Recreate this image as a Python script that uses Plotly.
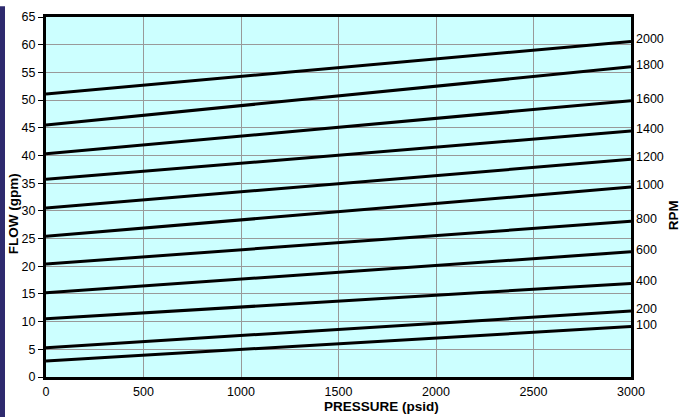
import plotly.graph_objects as go

# Data
rpm_labels = ["2000", "1800", "1600", "1400", "1200", "1000", "800", "600", "400", "200", "100"]
pressure_ends = [0, 3000]
flow_at_0 = [51.1, 45.5, 40.3, 35.7, 30.5, 25.4, 20.4, 15.2, 10.5, 5.3, 2.9]
flow_at_3000 = [60.6, 56.0, 49.9, 44.4, 39.3, 34.3, 28.1, 22.6, 16.9, 11.9, 9.1]

x_ticks = [0, 500, 1000, 1500, 2000, 2500, 3000]
y_ticks = list(range(0, 66, 5))

FONT = "Liberation Sans, Arial, sans-serif"
TICK_SIZE = 12.5
TITLE_SIZE = 13.5

fig = go.Figure()
for lab, f0, f1 in zip(rpm_labels, flow_at_0, flow_at_3000):
    fig.add_trace(go.Scatter(
        x=pressure_ends, y=[f0, f1], mode="lines",
        line=dict(color="black", width=3), name=lab, showlegend=False,
        hoverinfo="skip",
    ))
    fig.add_annotation(
        x=pressure_ends[-1], y=f1, xref="x", yref="y", text=lab,
        showarrow=False, xanchor="left", yanchor="middle", xshift=3, yshift=2,
        font=dict(family=FONT, size=TICK_SIZE, color="black"),
    )

L, R, T, B = 46, 50, 10, 40
W, H = 681, 417
pw = W - L - R
ph = H - T - B

fig.update_layout(
    width=W, height=H,
    margin=dict(l=L, r=R, t=T, b=B, pad=0),
    paper_bgcolor="white",
    plot_bgcolor="#ccffff",
    font=dict(family=FONT, size=TICK_SIZE, color="black"),
    showlegend=False,
)
fig.update_xaxes(
    range=[0, 3000], tickvals=x_ticks, ticktext=[str(v) for v in x_ticks],
    showgrid=True, gridcolor="#999999", gridwidth=1,
    showline=True, linecolor="black", linewidth=3, mirror=True,
    ticks="", zeroline=False, ticklabelstandoff=1,
    tickfont=dict(family=FONT, size=TICK_SIZE, color="black"),
)
fig.update_yaxes(
    range=[0, 65], tickvals=y_ticks, ticktext=[str(v) for v in y_ticks],
    showgrid=True, gridcolor="#999999", gridwidth=1,
    showline=True, linecolor="black", linewidth=3, mirror=True,
    ticks="outside", ticklen=5, tickcolor="black", tickwidth=1,
    zeroline=False,
    tickfont=dict(family=FONT, size=TICK_SIZE, color="black"),
)

# Dark strip on the left edge
fig.add_shape(type="rect", xref="paper", yref="paper",
              x0=-L / pw, x1=(5 - L) / pw, y0=-(B + 1) / ph, y1=(ph + T + 1) / ph,
              fillcolor="#2e2a6e", line=dict(width=0), layer="below")

# Axis titles
fig.add_annotation(text="<b>FLOW (gpm)</b>", xref="paper", yref="paper",
                   x=(13 - L) / pw, y=(H - B - 211) / ph, textangle=-90,
                   showarrow=False, xanchor="center", yanchor="middle",
                   font=dict(family=FONT, size=TITLE_SIZE, color="black"))
fig.add_annotation(text="<b>PRESSURE (psid)</b>", xref="paper", yref="paper",
                   x=(381 - L) / pw, y=(H - B - 407.5) / ph,
                   showarrow=False, xanchor="center", yanchor="middle",
                   font=dict(family=FONT, size=TITLE_SIZE, color="black"))
fig.add_annotation(text="<b>RPM</b>", xref="paper", yref="paper",
                   x=(673 - L) / pw, y=(H - B - 212) / ph, textangle=-90,
                   showarrow=False, xanchor="center", yanchor="middle",
                   font=dict(family=FONT, size=TITLE_SIZE, color="black"))

fig.write_html("out.html")
